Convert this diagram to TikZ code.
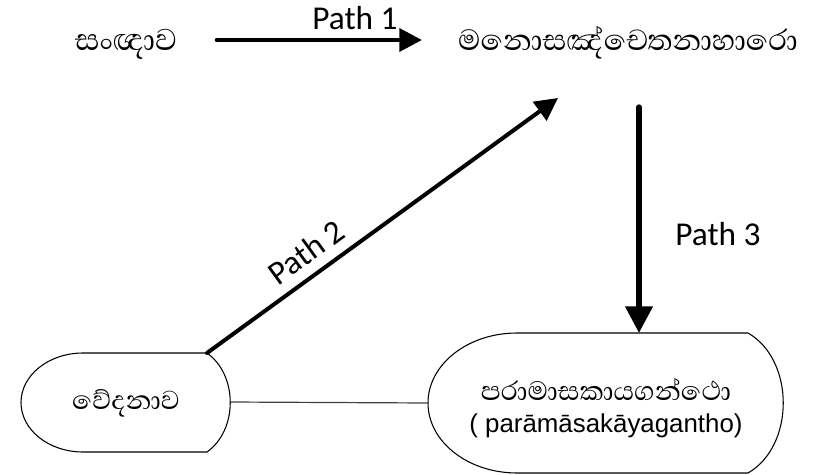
\documentclass[tikz,border=0pt]{standalone}
\usepackage{fontspec}
\setmainfont{Carlito}
\newfontfamily\sinhalafont[Script=Sinhala]{Abhaya Libre}
\newfontfamily\latinfont{Liberation Sans}
\usetikzlibrary{arrows.meta}
\newcommand\sinsize[1]{\fontsize{#1}{#1}\selectfont}
\tikzset{
  sinhala/.style={font=\sinhalafont, inner sep=0pt},
  latin/.style={font=\latinfont\fontsize{19.4}{23}\selectfont, inner sep=0pt},
  pathlabel/.style={font=\fontsize{25}{30}\selectfont, inner sep=0pt},
  patharrow/.style={-{Triangle[length=17pt,width=17pt]}, line width=3.5pt, line cap=round},
  display/.style={draw=black, line width=0.8pt},
  link/.style={draw=black!75, line width=0.9pt},
}
\begin{document}
\begin{tikzpicture}[x=0.75pt,y=-0.75pt]
  \useasboundingbox (0,0) rectangle (833,475);
  % corner points of the two display shapes
  \coordinate (vedana-ne) at (207,353);
  \coordinate (vedana-e) at (230,402);
  \coordinate (grantha-w) at (428,403);
  \coordinate (grantha-n) at (639,333);
  % free ends of the path arrows
  \coordinate (p1from) at (217,40);
  \coordinate (p1to) at (422,40);
  \coordinate (p2to) at (558,98);
  \coordinate (p3from) at (639,107);

  % display shapes
  \draw[display] (vedana-ne) .. controls (238,375) and (238,430) .. (207,452)
    -- (83,452) arc[start angle=90, end angle=270, x radius=62, y radius=49.5]
    -- cycle;
  \draw[display] (517,333) -- (748,333) .. controls (795,360) and (795,446) .. (748,473)
    -- (517,473) arc[start angle=90, end angle=270, x radius=89, y radius=70]
    -- cycle;

  % texts
  \node[sinhala] (sangna) at (126,44) {\sinsize{29}සංඥාව};
  \node[sinhala] (cetana) at (628,43) {\sinsize{28}මනොසඤ්චෙතනාහාරො};
  \node[sinhala] (vedana) at (126,403) {\sinsize{25}වේදනාව};
  \node[sinhala] (grantha) at (606,390) {\sinsize{25.5}පරාමාසකායගන්ථො};
  \node[latin] (granthaen) at (606,426) {( parāmāsakāyagantho)};

  % connectors
  \draw[link] (vedana-e) -- (grantha-w);
  \draw[patharrow] (p1from) -- (p1to);
  \draw[patharrow, line width=3pt] (vedana-ne) -- (p2to);
  \draw[patharrow, line width=4pt, -{Triangle[length=20pt,width=20pt]}] (p3from) -- (grantha-n);

  % labels
  \node[pathlabel] (label1) at (355,18) {Path 1};
  \node[pathlabel, rotate=36] (label2) at (306,252) {Path 2};
  \node[pathlabel] (label3) at (718,234) {Path 3};
\end{tikzpicture}
\end{document}
